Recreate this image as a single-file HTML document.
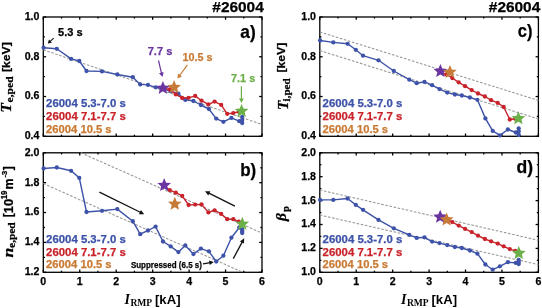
<!DOCTYPE html>
<html><head><meta charset="utf-8"><style>
html,body{margin:0;padding:0;background:#fff;}
svg{display:block;filter:blur(0.3px);}
</style></head><body>
<svg width="542" height="308" viewBox="0 0 542 308">
<rect width="542" height="308" fill="#fff"/>
<g stroke="#000" stroke-width="1.3" fill="none">
<line x1="43.30" y1="136.3" x2="43.30" y2="133.50" />
<line x1="43.30" y1="17.0" x2="43.30" y2="19.80" />
<line x1="61.52" y1="136.3" x2="61.52" y2="134.70" />
<line x1="61.52" y1="17.0" x2="61.52" y2="18.60" />
<line x1="79.75" y1="136.3" x2="79.75" y2="133.50" />
<line x1="79.75" y1="17.0" x2="79.75" y2="19.80" />
<line x1="97.97" y1="136.3" x2="97.97" y2="134.70" />
<line x1="97.97" y1="17.0" x2="97.97" y2="18.60" />
<line x1="116.20" y1="136.3" x2="116.20" y2="133.50" />
<line x1="116.20" y1="17.0" x2="116.20" y2="19.80" />
<line x1="134.43" y1="136.3" x2="134.43" y2="134.70" />
<line x1="134.43" y1="17.0" x2="134.43" y2="18.60" />
<line x1="152.65" y1="136.3" x2="152.65" y2="133.50" />
<line x1="152.65" y1="17.0" x2="152.65" y2="19.80" />
<line x1="170.88" y1="136.3" x2="170.88" y2="134.70" />
<line x1="170.88" y1="17.0" x2="170.88" y2="18.60" />
<line x1="189.10" y1="136.3" x2="189.10" y2="133.50" />
<line x1="189.10" y1="17.0" x2="189.10" y2="19.80" />
<line x1="207.32" y1="136.3" x2="207.32" y2="134.70" />
<line x1="207.32" y1="17.0" x2="207.32" y2="18.60" />
<line x1="225.55" y1="136.3" x2="225.55" y2="133.50" />
<line x1="225.55" y1="17.0" x2="225.55" y2="19.80" />
<line x1="243.77" y1="136.3" x2="243.77" y2="134.70" />
<line x1="243.77" y1="17.0" x2="243.77" y2="18.60" />
<line x1="262.00" y1="136.3" x2="262.00" y2="133.50" />
<line x1="262.00" y1="17.0" x2="262.00" y2="19.80" />
<line x1="43.3" y1="136.30" x2="46.10" y2="136.30" />
<line x1="262.0" y1="136.30" x2="259.20" y2="136.30" />
<line x1="43.3" y1="96.53" x2="46.10" y2="96.53" />
<line x1="262.0" y1="96.53" x2="259.20" y2="96.53" />
<line x1="43.3" y1="56.77" x2="46.10" y2="56.77" />
<line x1="262.0" y1="56.77" x2="259.20" y2="56.77" />
<line x1="43.3" y1="17.00" x2="46.10" y2="17.00" />
<line x1="262.0" y1="17.00" x2="259.20" y2="17.00" />
<line x1="43.3" y1="116.42" x2="44.90" y2="116.42" />
<line x1="262.0" y1="116.42" x2="260.40" y2="116.42" />
<line x1="43.3" y1="76.65" x2="44.90" y2="76.65" />
<line x1="262.0" y1="76.65" x2="260.40" y2="76.65" />
<line x1="43.3" y1="36.88" x2="44.90" y2="36.88" />
<line x1="262.0" y1="36.88" x2="260.40" y2="36.88" />
<rect x="43.3" y="17.0" width="218.70" height="119.30" fill="none" />
<line x1="319.80" y1="136.3" x2="319.80" y2="133.50" />
<line x1="319.80" y1="17.0" x2="319.80" y2="19.80" />
<line x1="338.02" y1="136.3" x2="338.02" y2="134.70" />
<line x1="338.02" y1="17.0" x2="338.02" y2="18.60" />
<line x1="356.23" y1="136.3" x2="356.23" y2="133.50" />
<line x1="356.23" y1="17.0" x2="356.23" y2="19.80" />
<line x1="374.45" y1="136.3" x2="374.45" y2="134.70" />
<line x1="374.45" y1="17.0" x2="374.45" y2="18.60" />
<line x1="392.67" y1="136.3" x2="392.67" y2="133.50" />
<line x1="392.67" y1="17.0" x2="392.67" y2="19.80" />
<line x1="410.88" y1="136.3" x2="410.88" y2="134.70" />
<line x1="410.88" y1="17.0" x2="410.88" y2="18.60" />
<line x1="429.10" y1="136.3" x2="429.10" y2="133.50" />
<line x1="429.10" y1="17.0" x2="429.10" y2="19.80" />
<line x1="447.32" y1="136.3" x2="447.32" y2="134.70" />
<line x1="447.32" y1="17.0" x2="447.32" y2="18.60" />
<line x1="465.53" y1="136.3" x2="465.53" y2="133.50" />
<line x1="465.53" y1="17.0" x2="465.53" y2="19.80" />
<line x1="483.75" y1="136.3" x2="483.75" y2="134.70" />
<line x1="483.75" y1="17.0" x2="483.75" y2="18.60" />
<line x1="501.97" y1="136.3" x2="501.97" y2="133.50" />
<line x1="501.97" y1="17.0" x2="501.97" y2="19.80" />
<line x1="520.18" y1="136.3" x2="520.18" y2="134.70" />
<line x1="520.18" y1="17.0" x2="520.18" y2="18.60" />
<line x1="538.40" y1="136.3" x2="538.40" y2="133.50" />
<line x1="538.40" y1="17.0" x2="538.40" y2="19.80" />
<line x1="319.8" y1="136.30" x2="322.60" y2="136.30" />
<line x1="538.4" y1="136.30" x2="535.60" y2="136.30" />
<line x1="319.8" y1="96.53" x2="322.60" y2="96.53" />
<line x1="538.4" y1="96.53" x2="535.60" y2="96.53" />
<line x1="319.8" y1="56.77" x2="322.60" y2="56.77" />
<line x1="538.4" y1="56.77" x2="535.60" y2="56.77" />
<line x1="319.8" y1="17.00" x2="322.60" y2="17.00" />
<line x1="538.4" y1="17.00" x2="535.60" y2="17.00" />
<line x1="319.8" y1="116.42" x2="321.40" y2="116.42" />
<line x1="538.4" y1="116.42" x2="536.80" y2="116.42" />
<line x1="319.8" y1="76.65" x2="321.40" y2="76.65" />
<line x1="538.4" y1="76.65" x2="536.80" y2="76.65" />
<line x1="319.8" y1="36.88" x2="321.40" y2="36.88" />
<line x1="538.4" y1="36.88" x2="536.80" y2="36.88" />
<rect x="319.8" y="17.0" width="218.60" height="119.30" fill="none" />
<line x1="43.30" y1="272.3" x2="43.30" y2="269.50" />
<line x1="43.30" y1="152.8" x2="43.30" y2="155.60" />
<line x1="61.52" y1="272.3" x2="61.52" y2="270.70" />
<line x1="61.52" y1="152.8" x2="61.52" y2="154.40" />
<line x1="79.75" y1="272.3" x2="79.75" y2="269.50" />
<line x1="79.75" y1="152.8" x2="79.75" y2="155.60" />
<line x1="97.97" y1="272.3" x2="97.97" y2="270.70" />
<line x1="97.97" y1="152.8" x2="97.97" y2="154.40" />
<line x1="116.20" y1="272.3" x2="116.20" y2="269.50" />
<line x1="116.20" y1="152.8" x2="116.20" y2="155.60" />
<line x1="134.43" y1="272.3" x2="134.43" y2="270.70" />
<line x1="134.43" y1="152.8" x2="134.43" y2="154.40" />
<line x1="152.65" y1="272.3" x2="152.65" y2="269.50" />
<line x1="152.65" y1="152.8" x2="152.65" y2="155.60" />
<line x1="170.88" y1="272.3" x2="170.88" y2="270.70" />
<line x1="170.88" y1="152.8" x2="170.88" y2="154.40" />
<line x1="189.10" y1="272.3" x2="189.10" y2="269.50" />
<line x1="189.10" y1="152.8" x2="189.10" y2="155.60" />
<line x1="207.32" y1="272.3" x2="207.32" y2="270.70" />
<line x1="207.32" y1="152.8" x2="207.32" y2="154.40" />
<line x1="225.55" y1="272.3" x2="225.55" y2="269.50" />
<line x1="225.55" y1="152.8" x2="225.55" y2="155.60" />
<line x1="243.77" y1="272.3" x2="243.77" y2="270.70" />
<line x1="243.77" y1="152.8" x2="243.77" y2="154.40" />
<line x1="262.00" y1="272.3" x2="262.00" y2="269.50" />
<line x1="262.00" y1="152.8" x2="262.00" y2="155.60" />
<line x1="43.3" y1="272.30" x2="46.10" y2="272.30" />
<line x1="262.0" y1="272.30" x2="259.20" y2="272.30" />
<line x1="43.3" y1="242.43" x2="46.10" y2="242.43" />
<line x1="262.0" y1="242.43" x2="259.20" y2="242.43" />
<line x1="43.3" y1="212.55" x2="46.10" y2="212.55" />
<line x1="262.0" y1="212.55" x2="259.20" y2="212.55" />
<line x1="43.3" y1="182.68" x2="46.10" y2="182.68" />
<line x1="262.0" y1="182.68" x2="259.20" y2="182.68" />
<line x1="43.3" y1="152.80" x2="46.10" y2="152.80" />
<line x1="262.0" y1="152.80" x2="259.20" y2="152.80" />
<line x1="43.3" y1="257.36" x2="44.90" y2="257.36" />
<line x1="262.0" y1="257.36" x2="260.40" y2="257.36" />
<line x1="43.3" y1="227.49" x2="44.90" y2="227.49" />
<line x1="262.0" y1="227.49" x2="260.40" y2="227.49" />
<line x1="43.3" y1="197.61" x2="44.90" y2="197.61" />
<line x1="262.0" y1="197.61" x2="260.40" y2="197.61" />
<line x1="43.3" y1="167.74" x2="44.90" y2="167.74" />
<line x1="262.0" y1="167.74" x2="260.40" y2="167.74" />
<rect x="43.3" y="152.8" width="218.70" height="119.50" fill="none" />
<line x1="319.80" y1="272.3" x2="319.80" y2="269.50" />
<line x1="319.80" y1="152.8" x2="319.80" y2="155.60" />
<line x1="338.02" y1="272.3" x2="338.02" y2="270.70" />
<line x1="338.02" y1="152.8" x2="338.02" y2="154.40" />
<line x1="356.23" y1="272.3" x2="356.23" y2="269.50" />
<line x1="356.23" y1="152.8" x2="356.23" y2="155.60" />
<line x1="374.45" y1="272.3" x2="374.45" y2="270.70" />
<line x1="374.45" y1="152.8" x2="374.45" y2="154.40" />
<line x1="392.67" y1="272.3" x2="392.67" y2="269.50" />
<line x1="392.67" y1="152.8" x2="392.67" y2="155.60" />
<line x1="410.88" y1="272.3" x2="410.88" y2="270.70" />
<line x1="410.88" y1="152.8" x2="410.88" y2="154.40" />
<line x1="429.10" y1="272.3" x2="429.10" y2="269.50" />
<line x1="429.10" y1="152.8" x2="429.10" y2="155.60" />
<line x1="447.32" y1="272.3" x2="447.32" y2="270.70" />
<line x1="447.32" y1="152.8" x2="447.32" y2="154.40" />
<line x1="465.53" y1="272.3" x2="465.53" y2="269.50" />
<line x1="465.53" y1="152.8" x2="465.53" y2="155.60" />
<line x1="483.75" y1="272.3" x2="483.75" y2="270.70" />
<line x1="483.75" y1="152.8" x2="483.75" y2="154.40" />
<line x1="501.97" y1="272.3" x2="501.97" y2="269.50" />
<line x1="501.97" y1="152.8" x2="501.97" y2="155.60" />
<line x1="520.18" y1="272.3" x2="520.18" y2="270.70" />
<line x1="520.18" y1="152.8" x2="520.18" y2="154.40" />
<line x1="538.40" y1="272.3" x2="538.40" y2="269.50" />
<line x1="538.40" y1="152.8" x2="538.40" y2="155.60" />
<line x1="319.8" y1="272.30" x2="322.60" y2="272.30" />
<line x1="538.4" y1="272.30" x2="535.60" y2="272.30" />
<line x1="319.8" y1="248.40" x2="322.60" y2="248.40" />
<line x1="538.4" y1="248.40" x2="535.60" y2="248.40" />
<line x1="319.8" y1="224.50" x2="322.60" y2="224.50" />
<line x1="538.4" y1="224.50" x2="535.60" y2="224.50" />
<line x1="319.8" y1="200.60" x2="322.60" y2="200.60" />
<line x1="538.4" y1="200.60" x2="535.60" y2="200.60" />
<line x1="319.8" y1="176.70" x2="322.60" y2="176.70" />
<line x1="538.4" y1="176.70" x2="535.60" y2="176.70" />
<line x1="319.8" y1="152.80" x2="322.60" y2="152.80" />
<line x1="538.4" y1="152.80" x2="535.60" y2="152.80" />
<line x1="319.8" y1="260.35" x2="321.40" y2="260.35" />
<line x1="538.4" y1="260.35" x2="536.80" y2="260.35" />
<line x1="319.8" y1="236.45" x2="321.40" y2="236.45" />
<line x1="538.4" y1="236.45" x2="536.80" y2="236.45" />
<line x1="319.8" y1="212.55" x2="321.40" y2="212.55" />
<line x1="538.4" y1="212.55" x2="536.80" y2="212.55" />
<line x1="319.8" y1="188.65" x2="321.40" y2="188.65" />
<line x1="538.4" y1="188.65" x2="536.80" y2="188.65" />
<line x1="319.8" y1="164.75" x2="321.40" y2="164.75" />
<line x1="538.4" y1="164.75" x2="536.80" y2="164.75" />
<rect x="319.8" y="152.8" width="218.60" height="119.50" fill="none" />
</g>
<line x1="43.3" y1="49.8" x2="262.0" y2="124.5" stroke="#959595" stroke-width="1.05" stroke-dasharray="2.6,1.6" />
<line x1="80.9" y1="152.8" x2="262.0" y2="233.1" stroke="#959595" stroke-width="1.05" stroke-dasharray="2.6,1.6" />
<line x1="43.3" y1="183.5" x2="242.8" y2="272.3" stroke="#959595" stroke-width="1.05" stroke-dasharray="2.6,1.6" />
<line x1="319.8" y1="32.0" x2="538.4" y2="100.4" stroke="#959595" stroke-width="1.05" stroke-dasharray="2.6,1.6" />
<line x1="319.8" y1="50.6" x2="538.4" y2="118.9" stroke="#959595" stroke-width="1.05" stroke-dasharray="2.6,1.6" />
<line x1="319.8" y1="190.0" x2="538.4" y2="240.3" stroke="#959595" stroke-width="1.05" stroke-dasharray="2.6,1.6" />
<line x1="319.8" y1="215.0" x2="538.4" y2="264.6" stroke="#959595" stroke-width="1.05" stroke-dasharray="2.6,1.6" />
<path d="M43.6,47.7 L56.8,48.8 L71.1,58.9 L79.3,61.0 L86.5,71.0 L102.0,71.4 L117.3,74.5 L132.8,77.2 L140.2,84.4 L148.0,84.9 L155.6,87.3 L163.0,89.0 L170.7,91.2 L178.4,93.7 L185.3,99.9 L193.4,101.0 L200.9,105.0 L208.9,109.0 L216.2,118.6 L223.4,121.8 L231.4,117.9 L239.3,121.2 L242.2,123.0 L242.2,120.0 L242.2,117.0" fill="none" stroke="#3d52a8" stroke-width="1.4" stroke-linejoin="round" /><circle cx="43.6" cy="47.7" r="2.15" fill="#3d52a8" /><circle cx="56.8" cy="48.8" r="2.15" fill="#3d52a8" /><circle cx="71.1" cy="58.9" r="2.15" fill="#3d52a8" /><circle cx="79.3" cy="61.0" r="2.15" fill="#3d52a8" /><circle cx="86.5" cy="71.0" r="2.15" fill="#3d52a8" /><circle cx="102.0" cy="71.4" r="2.15" fill="#3d52a8" /><circle cx="117.3" cy="74.5" r="2.15" fill="#3d52a8" /><circle cx="132.8" cy="77.2" r="2.15" fill="#3d52a8" /><circle cx="140.2" cy="84.4" r="2.15" fill="#3d52a8" /><circle cx="148.0" cy="84.9" r="2.15" fill="#3d52a8" /><circle cx="155.6" cy="87.3" r="2.15" fill="#3d52a8" /><circle cx="163.0" cy="89.0" r="2.15" fill="#3d52a8" /><circle cx="170.7" cy="91.2" r="2.15" fill="#3d52a8" /><circle cx="178.4" cy="93.7" r="2.15" fill="#3d52a8" /><circle cx="185.3" cy="99.9" r="2.15" fill="#3d52a8" /><circle cx="193.4" cy="101.0" r="2.15" fill="#3d52a8" /><circle cx="200.9" cy="105.0" r="2.15" fill="#3d52a8" /><circle cx="208.9" cy="109.0" r="2.15" fill="#3d52a8" /><circle cx="216.2" cy="118.6" r="2.15" fill="#3d52a8" /><circle cx="223.4" cy="121.8" r="2.15" fill="#3d52a8" /><circle cx="231.4" cy="117.9" r="2.15" fill="#3d52a8" /><circle cx="239.3" cy="121.2" r="2.15" fill="#3d52a8" /><circle cx="242.2" cy="123.0" r="2.15" fill="#3d52a8" /><circle cx="242.2" cy="120.0" r="2.15" fill="#3d52a8" /><circle cx="242.2" cy="117.0" r="2.15" fill="#3d52a8" />
<path d="M242.0,111.1 L238.8,111.8 L233.3,113.1 L227.2,113.8 L221.2,104.9 L214.6,101.6 L208.4,104.4 L201.5,100.7 L195.2,95.9 L188.6,97.8 L182.2,98.0 L175.8,94.4 L169.8,89.5 L163.4,88.1" fill="none" stroke="#c8232b" stroke-width="1.4" stroke-linejoin="round" /><circle cx="242.0" cy="111.1" r="2.15" fill="#c8232b" /><circle cx="238.8" cy="111.8" r="2.15" fill="#c8232b" /><circle cx="233.3" cy="113.1" r="2.15" fill="#c8232b" /><circle cx="227.2" cy="113.8" r="2.15" fill="#c8232b" /><circle cx="221.2" cy="104.9" r="2.15" fill="#c8232b" /><circle cx="214.6" cy="101.6" r="2.15" fill="#c8232b" /><circle cx="208.4" cy="104.4" r="2.15" fill="#c8232b" /><circle cx="201.5" cy="100.7" r="2.15" fill="#c8232b" /><circle cx="195.2" cy="95.9" r="2.15" fill="#c8232b" /><circle cx="188.6" cy="97.8" r="2.15" fill="#c8232b" /><circle cx="182.2" cy="98.0" r="2.15" fill="#c8232b" /><circle cx="175.8" cy="94.4" r="2.15" fill="#c8232b" /><circle cx="169.8" cy="89.5" r="2.15" fill="#c8232b" /><circle cx="163.4" cy="88.1" r="2.15" fill="#c8232b" />
<polygon points="162.90,80.90 164.80,85.48 169.75,85.88 165.98,89.10 167.13,93.92 162.90,91.34 158.67,93.92 159.82,89.10 156.05,85.88 161.00,85.48" fill="#6a35a0" />
<polygon points="174.10,80.10 176.00,84.68 180.95,85.08 177.18,88.30 178.33,93.12 174.10,90.54 169.87,93.12 171.02,88.30 167.25,85.08 172.20,84.68" fill="#c67b38" />
<polygon points="241.60,103.90 243.50,108.48 248.45,108.88 244.68,112.10 245.83,116.92 241.60,114.34 237.37,116.92 238.52,112.10 234.75,108.88 239.70,108.48" fill="#6cb04a" />
<path d="M43.6,168.5 L56.8,167.5 L71.1,170.8 L79.3,177.9 L86.5,212.0 L102.0,210.8 L117.3,209.1 L132.8,221.2 L140.2,234.2 L148.0,230.5 L155.6,226.6 L163.0,241.5 L170.7,246.4 L178.4,252.1 L185.3,245.4 L193.4,254.1 L200.9,248.6 L208.9,251.3 L216.2,261.5 L223.4,255.7 L231.4,237.7 L239.3,227.5 L242.2,229.5 L242.2,231.5 L242.2,233.0" fill="none" stroke="#3d52a8" stroke-width="1.4" stroke-linejoin="round" /><circle cx="43.6" cy="168.5" r="2.15" fill="#3d52a8" /><circle cx="56.8" cy="167.5" r="2.15" fill="#3d52a8" /><circle cx="71.1" cy="170.8" r="2.15" fill="#3d52a8" /><circle cx="79.3" cy="177.9" r="2.15" fill="#3d52a8" /><circle cx="86.5" cy="212.0" r="2.15" fill="#3d52a8" /><circle cx="102.0" cy="210.8" r="2.15" fill="#3d52a8" /><circle cx="117.3" cy="209.1" r="2.15" fill="#3d52a8" /><circle cx="132.8" cy="221.2" r="2.15" fill="#3d52a8" /><circle cx="140.2" cy="234.2" r="2.15" fill="#3d52a8" /><circle cx="148.0" cy="230.5" r="2.15" fill="#3d52a8" /><circle cx="155.6" cy="226.6" r="2.15" fill="#3d52a8" /><circle cx="163.0" cy="241.5" r="2.15" fill="#3d52a8" /><circle cx="170.7" cy="246.4" r="2.15" fill="#3d52a8" /><circle cx="178.4" cy="252.1" r="2.15" fill="#3d52a8" /><circle cx="185.3" cy="245.4" r="2.15" fill="#3d52a8" /><circle cx="193.4" cy="254.1" r="2.15" fill="#3d52a8" /><circle cx="200.9" cy="248.6" r="2.15" fill="#3d52a8" /><circle cx="208.9" cy="251.3" r="2.15" fill="#3d52a8" /><circle cx="216.2" cy="261.5" r="2.15" fill="#3d52a8" /><circle cx="223.4" cy="255.7" r="2.15" fill="#3d52a8" /><circle cx="231.4" cy="237.7" r="2.15" fill="#3d52a8" /><circle cx="239.3" cy="227.5" r="2.15" fill="#3d52a8" /><circle cx="242.2" cy="229.5" r="2.15" fill="#3d52a8" /><circle cx="242.2" cy="231.5" r="2.15" fill="#3d52a8" /><circle cx="242.2" cy="233.0" r="2.15" fill="#3d52a8" />
<path d="M242.0,223.8 L238.8,221.7 L233.3,219.2 L227.2,219.2 L221.2,213.9 L214.6,210.3 L208.4,212.4 L201.5,204.4 L195.2,204.6 L188.6,205.0 L182.2,195.9 L175.8,192.7 L169.8,190.2 L163.4,185.3" fill="none" stroke="#c8232b" stroke-width="1.4" stroke-linejoin="round" /><circle cx="242.0" cy="223.8" r="2.15" fill="#c8232b" /><circle cx="238.8" cy="221.7" r="2.15" fill="#c8232b" /><circle cx="233.3" cy="219.2" r="2.15" fill="#c8232b" /><circle cx="227.2" cy="219.2" r="2.15" fill="#c8232b" /><circle cx="221.2" cy="213.9" r="2.15" fill="#c8232b" /><circle cx="214.6" cy="210.3" r="2.15" fill="#c8232b" /><circle cx="208.4" cy="212.4" r="2.15" fill="#c8232b" /><circle cx="201.5" cy="204.4" r="2.15" fill="#c8232b" /><circle cx="195.2" cy="204.6" r="2.15" fill="#c8232b" /><circle cx="188.6" cy="205.0" r="2.15" fill="#c8232b" /><circle cx="182.2" cy="195.9" r="2.15" fill="#c8232b" /><circle cx="175.8" cy="192.7" r="2.15" fill="#c8232b" /><circle cx="169.8" cy="190.2" r="2.15" fill="#c8232b" /><circle cx="163.4" cy="185.3" r="2.15" fill="#c8232b" />
<polygon points="164.20,178.10 166.10,182.68 171.05,183.08 167.28,186.30 168.43,191.12 164.20,188.54 159.97,191.12 161.12,186.30 157.35,183.08 162.30,182.68" fill="#6a35a0" />
<polygon points="174.80,196.80 176.70,201.38 181.65,201.78 177.88,205.00 179.03,209.82 174.80,207.24 170.57,209.82 171.72,205.00 167.95,201.78 172.90,201.38" fill="#c67b38" />
<polygon points="242.30,216.80 244.20,221.38 249.15,221.78 245.38,225.00 246.53,229.82 242.30,227.24 238.07,229.82 239.22,225.00 235.45,221.78 240.40,221.38" fill="#6cb04a" />
<path d="M320.1,40.5 L333.3,42.4 L347.6,43.8 L355.8,49.8 L363.0,55.7 L378.5,60.3 L393.8,71.0 L409.3,79.7 L416.7,83.2 L424.5,81.9 L432.1,85.2 L439.5,89.1 L447.2,92.6 L454.9,94.5 L461.8,95.5 L469.9,97.5 L477.4,99.8 L485.4,118.4 L492.7,130.9 L499.9,135.4 L507.9,129.5 L515.8,132.5 L518.7,135.0 L518.7,131.5 L518.7,128.5" fill="none" stroke="#3d52a8" stroke-width="1.4" stroke-linejoin="round" /><circle cx="320.1" cy="40.5" r="2.15" fill="#3d52a8" /><circle cx="333.3" cy="42.4" r="2.15" fill="#3d52a8" /><circle cx="347.6" cy="43.8" r="2.15" fill="#3d52a8" /><circle cx="355.8" cy="49.8" r="2.15" fill="#3d52a8" /><circle cx="363.0" cy="55.7" r="2.15" fill="#3d52a8" /><circle cx="378.5" cy="60.3" r="2.15" fill="#3d52a8" /><circle cx="393.8" cy="71.0" r="2.15" fill="#3d52a8" /><circle cx="409.3" cy="79.7" r="2.15" fill="#3d52a8" /><circle cx="416.7" cy="83.2" r="2.15" fill="#3d52a8" /><circle cx="424.5" cy="81.9" r="2.15" fill="#3d52a8" /><circle cx="432.1" cy="85.2" r="2.15" fill="#3d52a8" /><circle cx="439.5" cy="89.1" r="2.15" fill="#3d52a8" /><circle cx="447.2" cy="92.6" r="2.15" fill="#3d52a8" /><circle cx="454.9" cy="94.5" r="2.15" fill="#3d52a8" /><circle cx="461.8" cy="95.5" r="2.15" fill="#3d52a8" /><circle cx="469.9" cy="97.5" r="2.15" fill="#3d52a8" /><circle cx="477.4" cy="99.8" r="2.15" fill="#3d52a8" /><circle cx="485.4" cy="118.4" r="2.15" fill="#3d52a8" /><circle cx="492.7" cy="130.9" r="2.15" fill="#3d52a8" /><circle cx="499.9" cy="135.4" r="2.15" fill="#3d52a8" /><circle cx="507.9" cy="129.5" r="2.15" fill="#3d52a8" /><circle cx="515.8" cy="132.5" r="2.15" fill="#3d52a8" /><circle cx="518.7" cy="135.0" r="2.15" fill="#3d52a8" /><circle cx="518.7" cy="131.5" r="2.15" fill="#3d52a8" /><circle cx="518.7" cy="128.5" r="2.15" fill="#3d52a8" />
<path d="M518.5,118.4 L515.3,118.8 L509.8,119.5 L503.7,107.0 L497.7,102.9 L491.1,100.2 L484.9,96.5 L478.0,93.5 L471.7,90.1 L465.1,86.2 L458.7,82.3 L452.3,78.0 L446.3,74.5 L439.9,71.2" fill="none" stroke="#c8232b" stroke-width="1.4" stroke-linejoin="round" /><circle cx="518.5" cy="118.4" r="2.15" fill="#c8232b" /><circle cx="515.3" cy="118.8" r="2.15" fill="#c8232b" /><circle cx="509.8" cy="119.5" r="2.15" fill="#c8232b" /><circle cx="503.7" cy="107.0" r="2.15" fill="#c8232b" /><circle cx="497.7" cy="102.9" r="2.15" fill="#c8232b" /><circle cx="491.1" cy="100.2" r="2.15" fill="#c8232b" /><circle cx="484.9" cy="96.5" r="2.15" fill="#c8232b" /><circle cx="478.0" cy="93.5" r="2.15" fill="#c8232b" /><circle cx="471.7" cy="90.1" r="2.15" fill="#c8232b" /><circle cx="465.1" cy="86.2" r="2.15" fill="#c8232b" /><circle cx="458.7" cy="82.3" r="2.15" fill="#c8232b" /><circle cx="452.3" cy="78.0" r="2.15" fill="#c8232b" /><circle cx="446.3" cy="74.5" r="2.15" fill="#c8232b" /><circle cx="439.9" cy="71.2" r="2.15" fill="#c8232b" />
<polygon points="440.40,64.00 442.30,68.58 447.25,68.98 443.48,72.20 444.63,77.02 440.40,74.44 436.17,77.02 437.32,72.20 433.55,68.98 438.50,68.58" fill="#6a35a0" />
<polygon points="449.90,64.90 451.80,69.48 456.75,69.88 452.98,73.10 454.13,77.92 449.90,75.34 445.67,77.92 446.82,73.10 443.05,69.88 448.00,69.48" fill="#c67b38" />
<polygon points="518.40,111.20 520.30,115.78 525.25,116.18 521.48,119.40 522.63,124.22 518.40,121.64 514.17,124.22 515.32,119.40 511.55,116.18 516.50,115.78" fill="#6cb04a" />
<path d="M320.1,199.9 L333.3,199.9 L347.6,198.5 L355.8,204.9 L363.0,209.8 L378.5,219.9 L393.8,228.3 L409.3,234.9 L416.7,237.9 L424.5,237.3 L432.1,241.6 L439.5,243.1 L447.2,245.1 L454.9,247.0 L461.8,248.0 L469.9,250.5 L477.4,253.7 L485.4,264.5 L492.7,269.7 L499.9,266.3 L507.9,262.2 L515.8,262.9 L518.7,264.0 L518.7,262.0 L518.7,260.0" fill="none" stroke="#3d52a8" stroke-width="1.4" stroke-linejoin="round" /><circle cx="320.1" cy="199.9" r="2.15" fill="#3d52a8" /><circle cx="333.3" cy="199.9" r="2.15" fill="#3d52a8" /><circle cx="347.6" cy="198.5" r="2.15" fill="#3d52a8" /><circle cx="355.8" cy="204.9" r="2.15" fill="#3d52a8" /><circle cx="363.0" cy="209.8" r="2.15" fill="#3d52a8" /><circle cx="378.5" cy="219.9" r="2.15" fill="#3d52a8" /><circle cx="393.8" cy="228.3" r="2.15" fill="#3d52a8" /><circle cx="409.3" cy="234.9" r="2.15" fill="#3d52a8" /><circle cx="416.7" cy="237.9" r="2.15" fill="#3d52a8" /><circle cx="424.5" cy="237.3" r="2.15" fill="#3d52a8" /><circle cx="432.1" cy="241.6" r="2.15" fill="#3d52a8" /><circle cx="439.5" cy="243.1" r="2.15" fill="#3d52a8" /><circle cx="447.2" cy="245.1" r="2.15" fill="#3d52a8" /><circle cx="454.9" cy="247.0" r="2.15" fill="#3d52a8" /><circle cx="461.8" cy="248.0" r="2.15" fill="#3d52a8" /><circle cx="469.9" cy="250.5" r="2.15" fill="#3d52a8" /><circle cx="477.4" cy="253.7" r="2.15" fill="#3d52a8" /><circle cx="485.4" cy="264.5" r="2.15" fill="#3d52a8" /><circle cx="492.7" cy="269.7" r="2.15" fill="#3d52a8" /><circle cx="499.9" cy="266.3" r="2.15" fill="#3d52a8" /><circle cx="507.9" cy="262.2" r="2.15" fill="#3d52a8" /><circle cx="515.8" cy="262.9" r="2.15" fill="#3d52a8" /><circle cx="518.7" cy="264.0" r="2.15" fill="#3d52a8" /><circle cx="518.7" cy="262.0" r="2.15" fill="#3d52a8" /><circle cx="518.7" cy="260.0" r="2.15" fill="#3d52a8" />
<path d="M518.5,253.2 L515.3,250.9 L509.8,249.1 L503.7,246.3 L497.7,243.6 L491.1,241.3 L484.9,239.0 L478.0,235.7 L471.7,232.1 L465.1,228.9 L458.7,225.6 L452.3,222.1 L446.3,219.0 L439.9,216.9" fill="none" stroke="#c8232b" stroke-width="1.4" stroke-linejoin="round" /><circle cx="518.5" cy="253.2" r="2.15" fill="#c8232b" /><circle cx="515.3" cy="250.9" r="2.15" fill="#c8232b" /><circle cx="509.8" cy="249.1" r="2.15" fill="#c8232b" /><circle cx="503.7" cy="246.3" r="2.15" fill="#c8232b" /><circle cx="497.7" cy="243.6" r="2.15" fill="#c8232b" /><circle cx="491.1" cy="241.3" r="2.15" fill="#c8232b" /><circle cx="484.9" cy="239.0" r="2.15" fill="#c8232b" /><circle cx="478.0" cy="235.7" r="2.15" fill="#c8232b" /><circle cx="471.7" cy="232.1" r="2.15" fill="#c8232b" /><circle cx="465.1" cy="228.9" r="2.15" fill="#c8232b" /><circle cx="458.7" cy="225.6" r="2.15" fill="#c8232b" /><circle cx="452.3" cy="222.1" r="2.15" fill="#c8232b" /><circle cx="446.3" cy="219.0" r="2.15" fill="#c8232b" /><circle cx="439.9" cy="216.9" r="2.15" fill="#c8232b" />
<polygon points="440.20,209.70 442.10,214.28 447.05,214.68 443.28,217.90 444.43,222.72 440.20,220.14 435.97,222.72 437.12,217.90 433.35,214.68 438.30,214.28" fill="#6a35a0" />
<polygon points="446.60,212.50 448.50,217.08 453.45,217.48 449.68,220.70 450.83,225.52 446.60,222.94 442.37,225.52 443.52,220.70 439.75,217.48 444.70,217.08" fill="#c67b38" />
<polygon points="518.80,246.00 520.70,250.58 525.65,250.98 521.88,254.20 523.03,259.02 518.80,256.44 514.57,259.02 515.72,254.20 511.95,250.98 516.90,250.58" fill="#6cb04a" />
<text x="58.0" y="36.0" style="font-family:&quot;Liberation Sans&quot;,sans-serif;font-weight:bold;font-size:11.3px" fill="#000" stroke="#000" stroke-width="0.25" text-anchor="start" textLength="24.6" lengthAdjust="spacingAndGlyphs" >5.3 s</text>
<line x1="53.70" y1="38.20" x2="49.64" y2="41.91" stroke="#111" stroke-width="1.1" /><polygon points="47.80,43.60 48.90,39.61 51.87,42.86" fill="#111" />
<text x="147.7" y="55.0" style="font-family:&quot;Liberation Sans&quot;,sans-serif;font-weight:bold;font-size:11.3px" fill="#6a35a0" stroke="#6a35a0" stroke-width="0.25" text-anchor="start" textLength="24.6" lengthAdjust="spacingAndGlyphs" >7.7 s</text>
<line x1="158.50" y1="60.50" x2="161.59" y2="73.59" stroke="#6a35a0" stroke-width="1.2" /><polygon points="162.40,77.00 159.03,73.17 163.70,72.07" fill="#6a35a0" />
<text x="182.4" y="60.9" style="font-family:&quot;Liberation Sans&quot;,sans-serif;font-weight:bold;font-size:11.8px" fill="#c97a33" stroke="#c97a33" stroke-width="0.25" text-anchor="start" textLength="30.0" lengthAdjust="spacingAndGlyphs" >10.5 s</text>
<line x1="187.40" y1="64.90" x2="179.46" y2="75.77" stroke="#c97a33" stroke-width="1.2" /><polygon points="177.40,78.60 178.11,73.55 181.99,76.38" fill="#c97a33" />
<text x="231.0" y="81.6" style="font-family:&quot;Liberation Sans&quot;,sans-serif;font-weight:bold;font-size:11.3px" fill="#6cb04a" stroke="#6cb04a" stroke-width="0.25" text-anchor="start" textLength="24.2" lengthAdjust="spacingAndGlyphs" >7.1 s</text>
<line x1="241.40" y1="86.20" x2="241.40" y2="99.50" stroke="#6cb04a" stroke-width="1.2" /><polygon points="241.40,103.00 239.00,98.50 243.80,98.50" fill="#6cb04a" />
<line x1="99.40" y1="192.10" x2="140.79" y2="212.52" stroke="#111" stroke-width="1.3" /><polygon points="144.20,214.20 138.88,214.14 140.91,210.01" fill="#111" />
<line x1="234.90" y1="206.10" x2="208.40" y2="192.89" stroke="#111" stroke-width="1.3" /><polygon points="205.00,191.20 210.32,191.28 208.27,195.40" fill="#111" />
<line x1="233.30" y1="258.60" x2="242.40" y2="241.65" stroke="#111" stroke-width="1.3" /><polygon points="244.20,238.30 243.96,243.62 239.90,241.44" fill="#111" />
<text x="130.9" y="267.6" style="font-family:&quot;Liberation Sans&quot;,sans-serif;font-weight:bold;font-size:9.8px" fill="#000" stroke="#000" stroke-width="0.25" text-anchor="start" textLength="71.0" lengthAdjust="spacingAndGlyphs" >Suppressed (6.5 s)</text>
<line x1="203.00" y1="263.80" x2="210.35" y2="262.58" stroke="#111" stroke-width="1.3" /><polygon points="213.80,262.00 209.74,265.01 208.98,260.47" fill="#111" />
<text x="46.1" y="107.2" style="font-family:&quot;Liberation Sans&quot;,sans-serif;font-weight:bold;font-size:11.3px" fill="#3d52a8" stroke="#3d52a8" stroke-width="0.25" text-anchor="start" textLength="79.7" lengthAdjust="spacingAndGlyphs" >26004 5.3-7.0 s</text>
<text x="46.1" y="119.9" style="font-family:&quot;Liberation Sans&quot;,sans-serif;font-weight:bold;font-size:11.3px" fill="#c8232b" stroke="#c8232b" stroke-width="0.25" text-anchor="start" textLength="79.7" lengthAdjust="spacingAndGlyphs" >26004 7.1-7.7 s</text>
<text x="46.1" y="132.6" style="font-family:&quot;Liberation Sans&quot;,sans-serif;font-weight:bold;font-size:11.3px" fill="#c97a33" stroke="#c97a33" stroke-width="0.25" text-anchor="start" textLength="65.5" lengthAdjust="spacingAndGlyphs" >26004 10.5 s</text>
<text x="46.1" y="242.8" style="font-family:&quot;Liberation Sans&quot;,sans-serif;font-weight:bold;font-size:11.3px" fill="#3d52a8" stroke="#3d52a8" stroke-width="0.25" text-anchor="start" textLength="79.7" lengthAdjust="spacingAndGlyphs" >26004 5.3-7.0 s</text>
<text x="46.1" y="255.5" style="font-family:&quot;Liberation Sans&quot;,sans-serif;font-weight:bold;font-size:11.3px" fill="#c8232b" stroke="#c8232b" stroke-width="0.25" text-anchor="start" textLength="79.7" lengthAdjust="spacingAndGlyphs" >26004 7.1-7.7 s</text>
<text x="46.1" y="268.2" style="font-family:&quot;Liberation Sans&quot;,sans-serif;font-weight:bold;font-size:11.3px" fill="#c97a33" stroke="#c97a33" stroke-width="0.25" text-anchor="start" textLength="65.5" lengthAdjust="spacingAndGlyphs" >26004 10.5 s</text>
<text x="322.6" y="107.2" style="font-family:&quot;Liberation Sans&quot;,sans-serif;font-weight:bold;font-size:11.3px" fill="#3d52a8" stroke="#3d52a8" stroke-width="0.25" text-anchor="start" textLength="79.7" lengthAdjust="spacingAndGlyphs" >26004 5.3-7.0 s</text>
<text x="322.6" y="119.9" style="font-family:&quot;Liberation Sans&quot;,sans-serif;font-weight:bold;font-size:11.3px" fill="#c8232b" stroke="#c8232b" stroke-width="0.25" text-anchor="start" textLength="79.7" lengthAdjust="spacingAndGlyphs" >26004 7.1-7.7 s</text>
<text x="322.6" y="132.6" style="font-family:&quot;Liberation Sans&quot;,sans-serif;font-weight:bold;font-size:11.3px" fill="#c97a33" stroke="#c97a33" stroke-width="0.25" text-anchor="start" textLength="65.5" lengthAdjust="spacingAndGlyphs" >26004 10.5 s</text>
<text x="322.6" y="243.0" style="font-family:&quot;Liberation Sans&quot;,sans-serif;font-weight:bold;font-size:11.3px" fill="#3d52a8" stroke="#3d52a8" stroke-width="0.25" text-anchor="start" textLength="79.7" lengthAdjust="spacingAndGlyphs" >26004 5.3-7.0 s</text>
<text x="322.6" y="255.7" style="font-family:&quot;Liberation Sans&quot;,sans-serif;font-weight:bold;font-size:11.3px" fill="#c8232b" stroke="#c8232b" stroke-width="0.25" text-anchor="start" textLength="79.7" lengthAdjust="spacingAndGlyphs" >26004 7.1-7.7 s</text>
<text x="322.6" y="268.4" style="font-family:&quot;Liberation Sans&quot;,sans-serif;font-weight:bold;font-size:11.3px" fill="#c97a33" stroke="#c97a33" stroke-width="0.25" text-anchor="start" textLength="65.5" lengthAdjust="spacingAndGlyphs" >26004 10.5 s</text>
<text x="240.3" y="38.2" style="font-family:&quot;Liberation Sans&quot;,sans-serif;font-weight:bold;font-size:18.5px" fill="#000" stroke="#000" stroke-width="0.25" text-anchor="start" textLength="15.4" lengthAdjust="spacingAndGlyphs" >a)</text>
<text x="240.2" y="175.6" style="font-family:&quot;Liberation Sans&quot;,sans-serif;font-weight:bold;font-size:18.5px" fill="#000" stroke="#000" stroke-width="0.25" text-anchor="start" textLength="16.0" lengthAdjust="spacingAndGlyphs" >b)</text>
<text x="517.7" y="37.1" style="font-family:&quot;Liberation Sans&quot;,sans-serif;font-weight:bold;font-size:18.5px" fill="#000" stroke="#000" stroke-width="0.25" text-anchor="start" textLength="14.7" lengthAdjust="spacingAndGlyphs" >c)</text>
<text x="516.5" y="173.3" style="font-family:&quot;Liberation Sans&quot;,sans-serif;font-weight:bold;font-size:18.5px" fill="#000" stroke="#000" stroke-width="0.25" text-anchor="start" textLength="16.6" lengthAdjust="spacingAndGlyphs" >d)</text>
<text x="263.8" y="11.7" style="font-family:&quot;Liberation Sans&quot;,sans-serif;font-weight:bold;font-size:14.8px" fill="#000" stroke="#000" stroke-width="0.25" text-anchor="end" textLength="51.5" lengthAdjust="spacingAndGlyphs" >#26004</text>
<text x="540.3" y="11.7" style="font-family:&quot;Liberation Sans&quot;,sans-serif;font-weight:bold;font-size:14.8px" fill="#000" stroke="#000" stroke-width="0.25" text-anchor="end" textLength="51.5" lengthAdjust="spacingAndGlyphs" >#26004</text>
<text x="39.4" y="139.2" style="font-family:&quot;Liberation Sans&quot;,sans-serif;font-weight:bold;font-size:10.6px" fill="#000" stroke="#000" stroke-width="0.25" text-anchor="end" >0.4</text>
<text x="39.4" y="99.43" style="font-family:&quot;Liberation Sans&quot;,sans-serif;font-weight:bold;font-size:10.6px" fill="#000" stroke="#000" stroke-width="0.25" text-anchor="end" >0.6</text>
<text x="39.4" y="59.67" style="font-family:&quot;Liberation Sans&quot;,sans-serif;font-weight:bold;font-size:10.6px" fill="#000" stroke="#000" stroke-width="0.25" text-anchor="end" >0.8</text>
<text x="39.4" y="19.9" style="font-family:&quot;Liberation Sans&quot;,sans-serif;font-weight:bold;font-size:10.6px" fill="#000" stroke="#000" stroke-width="0.25" text-anchor="end" >1.0</text>
<text x="316.0" y="139.2" style="font-family:&quot;Liberation Sans&quot;,sans-serif;font-weight:bold;font-size:10.6px" fill="#000" stroke="#000" stroke-width="0.25" text-anchor="end" >0.4</text>
<text x="316.0" y="99.43" style="font-family:&quot;Liberation Sans&quot;,sans-serif;font-weight:bold;font-size:10.6px" fill="#000" stroke="#000" stroke-width="0.25" text-anchor="end" >0.6</text>
<text x="316.0" y="59.67" style="font-family:&quot;Liberation Sans&quot;,sans-serif;font-weight:bold;font-size:10.6px" fill="#000" stroke="#000" stroke-width="0.25" text-anchor="end" >0.8</text>
<text x="316.0" y="19.9" style="font-family:&quot;Liberation Sans&quot;,sans-serif;font-weight:bold;font-size:10.6px" fill="#000" stroke="#000" stroke-width="0.25" text-anchor="end" >1.0</text>
<text x="39.4" y="275.2" style="font-family:&quot;Liberation Sans&quot;,sans-serif;font-weight:bold;font-size:10.6px" fill="#000" stroke="#000" stroke-width="0.25" text-anchor="end" >1.2</text>
<text x="39.4" y="245.33" style="font-family:&quot;Liberation Sans&quot;,sans-serif;font-weight:bold;font-size:10.6px" fill="#000" stroke="#000" stroke-width="0.25" text-anchor="end" >1.4</text>
<text x="39.4" y="215.45" style="font-family:&quot;Liberation Sans&quot;,sans-serif;font-weight:bold;font-size:10.6px" fill="#000" stroke="#000" stroke-width="0.25" text-anchor="end" >1.6</text>
<text x="39.4" y="185.58" style="font-family:&quot;Liberation Sans&quot;,sans-serif;font-weight:bold;font-size:10.6px" fill="#000" stroke="#000" stroke-width="0.25" text-anchor="end" >1.8</text>
<text x="39.4" y="155.7" style="font-family:&quot;Liberation Sans&quot;,sans-serif;font-weight:bold;font-size:10.6px" fill="#000" stroke="#000" stroke-width="0.25" text-anchor="end" >2.0</text>
<text x="316.0" y="275.2" style="font-family:&quot;Liberation Sans&quot;,sans-serif;font-weight:bold;font-size:10.6px" fill="#000" stroke="#000" stroke-width="0.25" text-anchor="end" >1.0</text>
<text x="316.0" y="251.3" style="font-family:&quot;Liberation Sans&quot;,sans-serif;font-weight:bold;font-size:10.6px" fill="#000" stroke="#000" stroke-width="0.25" text-anchor="end" >1.2</text>
<text x="316.0" y="227.4" style="font-family:&quot;Liberation Sans&quot;,sans-serif;font-weight:bold;font-size:10.6px" fill="#000" stroke="#000" stroke-width="0.25" text-anchor="end" >1.4</text>
<text x="316.0" y="203.5" style="font-family:&quot;Liberation Sans&quot;,sans-serif;font-weight:bold;font-size:10.6px" fill="#000" stroke="#000" stroke-width="0.25" text-anchor="end" >1.6</text>
<text x="316.0" y="179.6" style="font-family:&quot;Liberation Sans&quot;,sans-serif;font-weight:bold;font-size:10.6px" fill="#000" stroke="#000" stroke-width="0.25" text-anchor="end" >1.8</text>
<text x="316.0" y="155.7" style="font-family:&quot;Liberation Sans&quot;,sans-serif;font-weight:bold;font-size:10.6px" fill="#000" stroke="#000" stroke-width="0.25" text-anchor="end" >2.0</text>
<text x="43.30" y="284.8" style="font-family:&quot;Liberation Sans&quot;,sans-serif;font-weight:bold;font-size:10.6px" fill="#000" stroke="#000" stroke-width="0.25" text-anchor="middle" >0</text>
<text x="79.75" y="284.8" style="font-family:&quot;Liberation Sans&quot;,sans-serif;font-weight:bold;font-size:10.6px" fill="#000" stroke="#000" stroke-width="0.25" text-anchor="middle" >1</text>
<text x="116.20" y="284.8" style="font-family:&quot;Liberation Sans&quot;,sans-serif;font-weight:bold;font-size:10.6px" fill="#000" stroke="#000" stroke-width="0.25" text-anchor="middle" >2</text>
<text x="152.65" y="284.8" style="font-family:&quot;Liberation Sans&quot;,sans-serif;font-weight:bold;font-size:10.6px" fill="#000" stroke="#000" stroke-width="0.25" text-anchor="middle" >3</text>
<text x="189.10" y="284.8" style="font-family:&quot;Liberation Sans&quot;,sans-serif;font-weight:bold;font-size:10.6px" fill="#000" stroke="#000" stroke-width="0.25" text-anchor="middle" >4</text>
<text x="225.55" y="284.8" style="font-family:&quot;Liberation Sans&quot;,sans-serif;font-weight:bold;font-size:10.6px" fill="#000" stroke="#000" stroke-width="0.25" text-anchor="middle" >5</text>
<text x="262.00" y="284.8" style="font-family:&quot;Liberation Sans&quot;,sans-serif;font-weight:bold;font-size:10.6px" fill="#000" stroke="#000" stroke-width="0.25" text-anchor="middle" >6</text>
<text x="319.80" y="284.8" style="font-family:&quot;Liberation Sans&quot;,sans-serif;font-weight:bold;font-size:10.6px" fill="#000" stroke="#000" stroke-width="0.25" text-anchor="middle" >0</text>
<text x="356.23" y="284.8" style="font-family:&quot;Liberation Sans&quot;,sans-serif;font-weight:bold;font-size:10.6px" fill="#000" stroke="#000" stroke-width="0.25" text-anchor="middle" >1</text>
<text x="392.67" y="284.8" style="font-family:&quot;Liberation Sans&quot;,sans-serif;font-weight:bold;font-size:10.6px" fill="#000" stroke="#000" stroke-width="0.25" text-anchor="middle" >2</text>
<text x="429.10" y="284.8" style="font-family:&quot;Liberation Sans&quot;,sans-serif;font-weight:bold;font-size:10.6px" fill="#000" stroke="#000" stroke-width="0.25" text-anchor="middle" >3</text>
<text x="465.53" y="284.8" style="font-family:&quot;Liberation Sans&quot;,sans-serif;font-weight:bold;font-size:10.6px" fill="#000" stroke="#000" stroke-width="0.25" text-anchor="middle" >4</text>
<text x="501.97" y="284.8" style="font-family:&quot;Liberation Sans&quot;,sans-serif;font-weight:bold;font-size:10.6px" fill="#000" stroke="#000" stroke-width="0.25" text-anchor="middle" >5</text>
<text x="538.40" y="284.8" style="font-family:&quot;Liberation Sans&quot;,sans-serif;font-weight:bold;font-size:10.6px" fill="#000" stroke="#000" stroke-width="0.25" text-anchor="middle" >6</text>
<text x="124.6" y="304.0" style="font-family:&quot;Liberation Serif&quot;,serif;font-weight:bold;font-style:italic;font-size:14px">I</text>
<text x="130.4" y="306.2" style="font-family:&quot;Liberation Serif&quot;,serif;font-weight:bold;font-size:10px" textLength="21.8" lengthAdjust="spacingAndGlyphs">RMP</text>
<text x="155.0" y="304.0" style="font-family:&quot;Liberation Sans&quot;,sans-serif;font-weight:bold;font-size:13px" textLength="25.5" lengthAdjust="spacingAndGlyphs">[kA]</text>
<text x="401.1" y="304.0" style="font-family:&quot;Liberation Serif&quot;,serif;font-weight:bold;font-style:italic;font-size:14px">I</text>
<text x="406.9" y="306.2" style="font-family:&quot;Liberation Serif&quot;,serif;font-weight:bold;font-size:10px" textLength="21.8" lengthAdjust="spacingAndGlyphs">RMP</text>
<text x="431.5" y="304.0" style="font-family:&quot;Liberation Sans&quot;,sans-serif;font-weight:bold;font-size:13px" textLength="25.5" lengthAdjust="spacingAndGlyphs">[kA]</text>
<text transform="translate(11.3,112.6) rotate(-90)" style="font-family:&quot;Liberation Serif&quot;,serif;font-weight:bold;font-style:italic;font-size:15.3px" stroke="#000" stroke-width="0.25">T</text>
<text transform="translate(13.4,102.4) rotate(-90)" style="font-family:&quot;Liberation Serif&quot;,serif;font-weight:bold;font-size:10px" stroke="#000" stroke-width="0.25" textLength="26.0" lengthAdjust="spacingAndGlyphs">e,ped</text>
<text transform="translate(10.0,72.0) rotate(-90)" style="font-family:&quot;Liberation Sans&quot;,sans-serif;font-weight:bold;font-size:11.5px" stroke="#000" stroke-width="0.25" textLength="29.8" lengthAdjust="spacingAndGlyphs">[keV]</text>
<text transform="translate(287.8,110.0) rotate(-90)" style="font-family:&quot;Liberation Serif&quot;,serif;font-weight:bold;font-style:italic;font-size:15.3px" stroke="#000" stroke-width="0.25">T</text>
<text transform="translate(289.7,101.4) rotate(-90)" style="font-family:&quot;Liberation Serif&quot;,serif;font-weight:bold;font-size:10px" stroke="#000" stroke-width="0.25" textLength="23.0" lengthAdjust="spacingAndGlyphs">i,ped</text>
<text transform="translate(285.4,72.6) rotate(-90)" style="font-family:&quot;Liberation Sans&quot;,sans-serif;font-weight:bold;font-size:11.5px" stroke="#000" stroke-width="0.25" textLength="29.8" lengthAdjust="spacingAndGlyphs">[keV]</text>
<text transform="translate(12.9,257.6) rotate(-90)" style="font-family:&quot;Liberation Serif&quot;,serif;font-weight:bold;font-style:italic;font-size:15.3px" stroke="#000" stroke-width="0.25" textLength="9.8" lengthAdjust="spacingAndGlyphs">n</text>
<text transform="translate(14.8,247.9) rotate(-90)" style="font-family:&quot;Liberation Serif&quot;,serif;font-weight:bold;font-size:10px" stroke="#000" stroke-width="0.25" textLength="25.6" lengthAdjust="spacingAndGlyphs">e,ped</text>
<text transform="translate(12.2,217.3) rotate(-90)" style="font-family:&quot;Liberation Sans&quot;,sans-serif;font-weight:bold;font-size:12px" stroke="#000" stroke-width="0.25">[</text>
<text transform="translate(12.6,213.3) rotate(-90)" style="font-family:&quot;Liberation Sans&quot;,sans-serif;font-weight:bold;font-size:12px" stroke="#000" stroke-width="0.25" textLength="14.4" lengthAdjust="spacingAndGlyphs">10</text>
<text transform="translate(7.4,199.3) rotate(-90)" style="font-family:&quot;Liberation Sans&quot;,sans-serif;font-weight:bold;font-size:8.5px" stroke="#000" stroke-width="0.25" textLength="8.8" lengthAdjust="spacingAndGlyphs">19</text>
<text transform="translate(12.6,189.4) rotate(-90)" style="font-family:&quot;Liberation Sans&quot;,sans-serif;font-weight:bold;font-size:12px" stroke="#000" stroke-width="0.25" textLength="11.0" lengthAdjust="spacingAndGlyphs">m</text>
<text transform="translate(7.3,177.6) rotate(-90)" style="font-family:&quot;Liberation Sans&quot;,sans-serif;font-weight:bold;font-size:7.8px" stroke="#000" stroke-width="0.25" textLength="6.8" lengthAdjust="spacingAndGlyphs">-3</text>
<text transform="translate(12.2,170.3) rotate(-90)" style="font-family:&quot;Liberation Sans&quot;,sans-serif;font-weight:bold;font-size:12px" stroke="#000" stroke-width="0.25">]</text>
<text transform="translate(285.6,221.0) rotate(-90)" style="font-family:&quot;Liberation Serif&quot;,serif;font-weight:bold;font-style:italic;font-size:15.5px" stroke="#000" stroke-width="0.25">&#946;</text>
<text transform="translate(289.0,211.8) rotate(-90)" style="font-family:&quot;Liberation Serif&quot;,serif;font-weight:bold;font-size:10px" stroke="#000" stroke-width="0.25">p</text>
</svg>
</body></html>
